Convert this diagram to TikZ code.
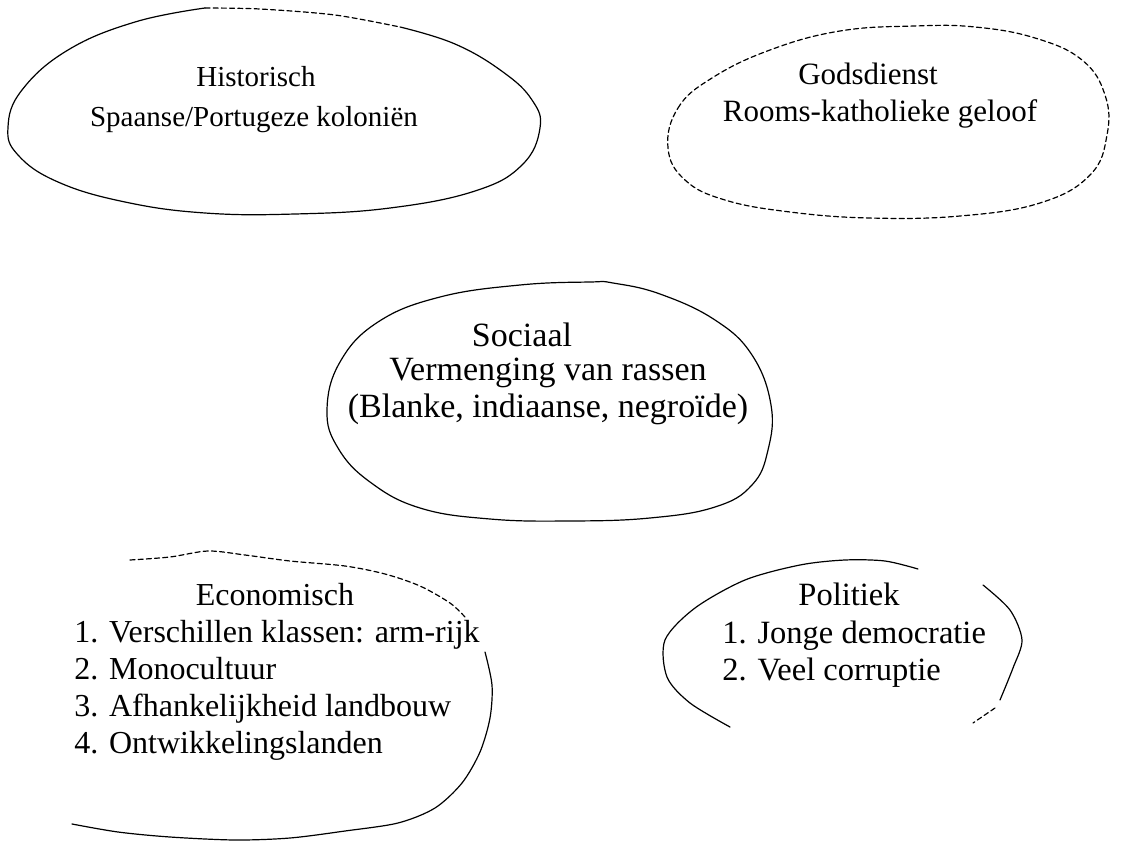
\documentclass[tikz,border=0pt]{standalone}
\usepackage{fontspec}
\setmainfont{Liberation Serif}
\usepackage{tikz}

\newcommand{\grootte}[1]{\fontsize{#1}{18.5}\selectfont}

\tikzset{
  rand/.style={line width=0.6pt, line cap=round},
  stip/.style={rand, dash pattern=on 2.5pt off 1.6pt},
  kop/.style={inner sep=0pt, anchor=base},
  blok/.style={inner sep=0pt, anchor=north, align=center},
  lijst/.style={inner sep=0pt, anchor=north west, align=left},
}

\begin{document}
\begin{tikzpicture}[x=0.5pt,y=-0.5pt]
  \useasboundingbox[fill=white] (0,0) rectangle (1131,846);

  % historisch
  \draw[rand] plot[smooth, tension=0.7] coordinates {(400,27) (455,44) (503,72) (532,100) (540,128) (522,165) (475,191) (390,208) (295,214) (205,213) (125,202) (58,182) (18,155) (8,127) (22,90) (68,50) (135,22) (205,8)};
  \draw[stip] plot[smooth] coordinates {(205,8) (260,9) (335,15) (400,27)};
  \node[kop, font=\grootte{14.5}] (hist-kop) at (256,86) {Historisch};
  \node[kop, font=\grootte{14.5}] (hist-tekst) at (254,126) {Spaanse/Portugeze koloniën};

  % godsdienst
  \draw[stip] plot[smooth cycle, tension=0.7] coordinates {(668,148) (678,108) (712,78) (770,50) (840,31) (915,26) (975,27) (1035,38) (1082,60) (1105,95) (1107,135) (1090,175) (1040,203) (960,216) (870,218) (790,212) (725,200) (685,180)};
  \node[kop, font=\grootte{15.5}] (gods-kop) at (868,84) {Godsdienst};
  \node[kop, font=\grootte{15.5}] (gods-tekst) at (880,121) {Rooms-katholieke geloof};

  % sociaal
  \draw[rand] plot[smooth cycle, tension=0.7] coordinates {(327,410) (340,362) (378,322) (440,297) (520,285) (590,282) (613,283) (660,294) (715,320) (752,355) (771,405) (768,450) (752,485) (715,507) (650,518) (570,521) (490,519) (420,508) (370,482) (338,448)};
  \node[kop, font=\grootte{17}] (soc-kop) at (522,346) {Sociaal};
  \node[blok, font=\grootte{17}] (soc-tekst) at (548,358) {Vermenging van rassen\\(Blanke, indiaanse, negroïde)};

  % economisch
  \draw[stip] plot[smooth] coordinates {(130,560) (170,557) (208,551) (245,555) (290,561) (345,566) (385,574) (420,586) (450,603) (465,617)};
  \draw[rand] plot[smooth] coordinates {(485,652) (492,685) (490,718) (480,752) (462,783) (435,808) (398,823) (345,831) (290,838) (235,840) (170,837) (118,832) (72,824)};
  \node[kop, font=\grootte{16}] (eco-kop) at (275,605) {Economisch};
  \node[lijst, font=\grootte{16}] (eco-tekst) at (74,620) {1. Verschillen klassen: arm-rijk\\2. Monocultuur\\3. Afhankelijkheid landbouw\\4. Ontwikkelingslanden};

  % politiek
  \draw[rand] plot[smooth] coordinates {(918,569) (885,561) (845,560) (800,565) (745,580) (695,608) (665,640) (667,677) (690,703) (730,727)};
  \draw[rand] plot[smooth] coordinates {(983,585) (1010,610) (1022,640) (1013,668) (1000,700)};
  \draw[stip] (995,708) -- (973,723);
  \node[kop, font=\grootte{16.25}] (pol-kop) at (849,605) {Politiek};
  \node[lijst, font=\grootte{16.25}] (pol-tekst) at (722,621) {1. Jonge democratie\\2. Veel corruptie};
\end{tikzpicture}
\end{document}
